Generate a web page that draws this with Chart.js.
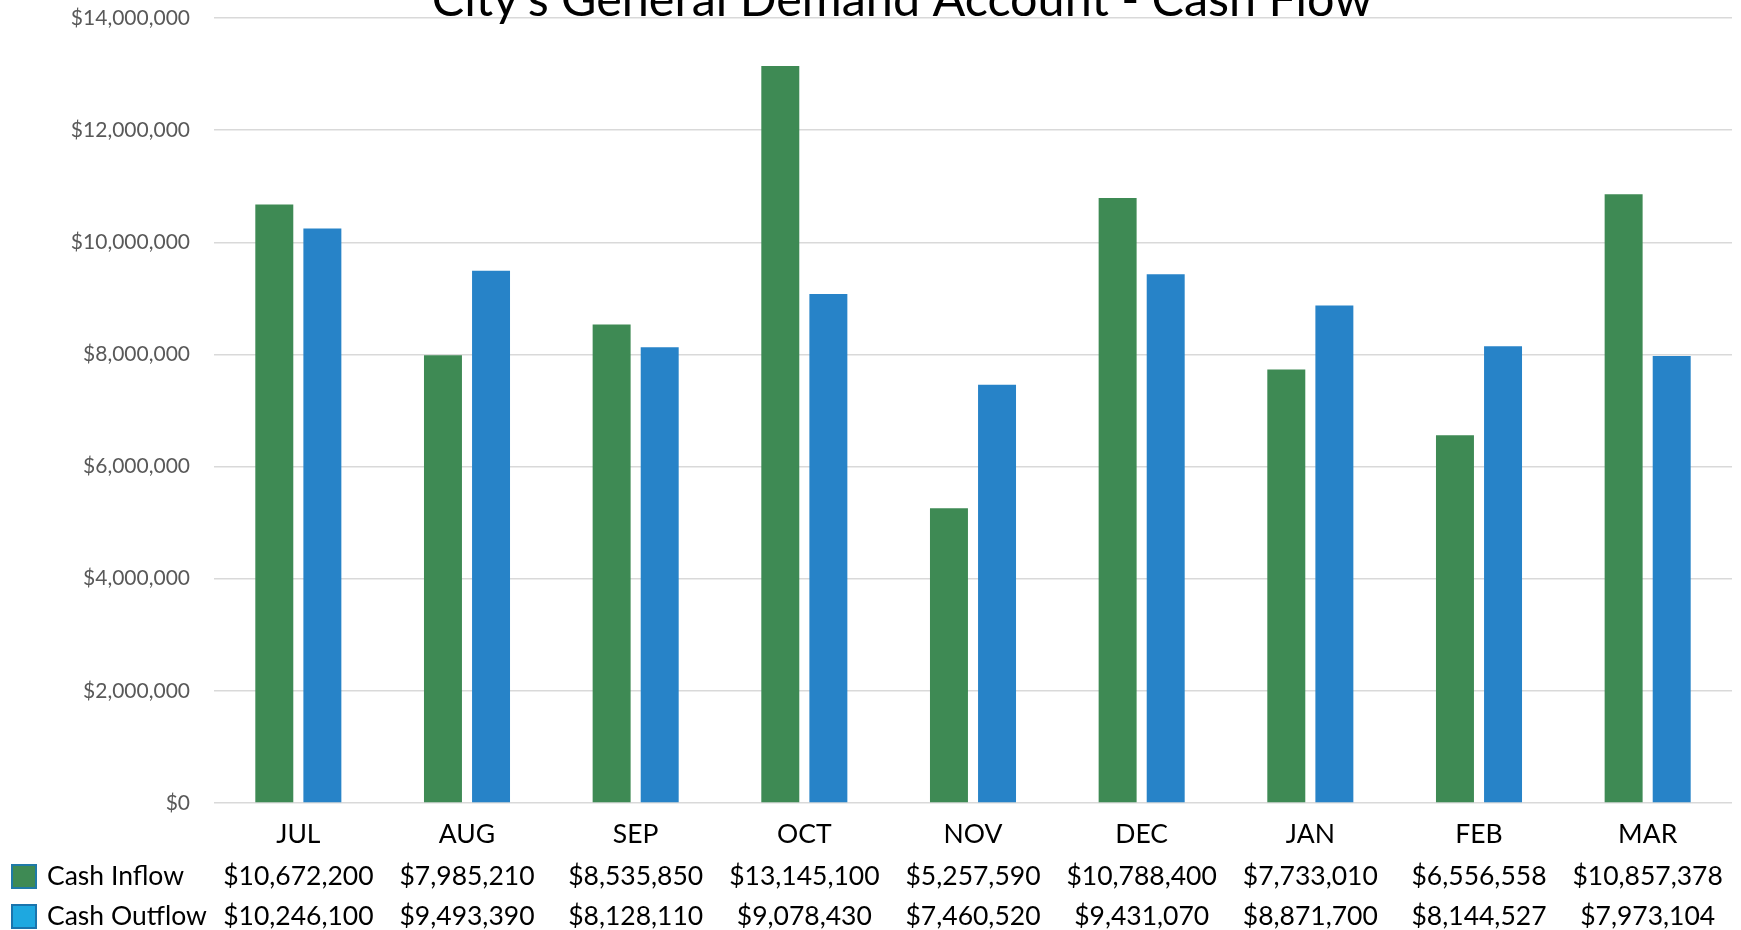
<!DOCTYPE html>
<html>
<head>
<meta charset="utf-8">
<title>City's General Demand Account - Cash Flow</title>
<script src="https://cdn.jsdelivr.net/npm/chart.js@4"></script>
<style>
  html, body { margin: 0; padding: 0; background: #fff; }
  #wrap { width: 1741px; height: 930px; position: relative; }
</style>
</head>
<body>
<div id="wrap"><canvas id="cashChart"></canvas></div>
<script>
// chart data
const months = ['JUL', 'AUG', 'SEP', 'OCT', 'NOV', 'DEC', 'JAN', 'FEB', 'MAR'];
const cashInflow = [10672200, 7985210, 8535850, 13145100, 5257590, 10788400, 7733010, 6556558, 10857378];
const cashOutflow = [10246100, 9493390, 8128110, 9078430, 7460520, 9431070, 8871700, 8144527, 7973104];
const seriesNames = ['Cash Inflow', 'Cash Outflow'];
const chartTitle = "City's General Demand Account - Cash Flow";

const FONT = 'Lato, "Open Sans", sans-serif';
const money = v => '$' + Math.round(v).toLocaleString('en-US');

// Excel style data table + cropped title drawn under / over the chart
const tablePlugin = {
  id: 'dataTable',
  afterDraw(chart) {
    const ctx = chart.ctx;
    const xs = chart.scales.x;
    const rows = [
      { name: seriesNames[0], values: cashInflow, fill: '#3e8a54', stroke: '#1f7aa8', y: 876 },
      { name: seriesNames[1], values: cashOutflow, fill: '#1ea8e0', stroke: '#1a74ad', y: 916 },
    ];
    ctx.save();
    ctx.textBaseline = 'middle';
    ctx.font = '26.5px ' + FONT;
    rows.forEach(row => {
      // legend key
      ctx.fillStyle = row.fill;
      ctx.strokeStyle = row.stroke;
      ctx.lineWidth = 2;
      ctx.fillRect(12, row.y - 11, 24, 23);
      ctx.strokeRect(12, row.y - 11, 24, 23);
      ctx.fillStyle = '#000';
      ctx.textAlign = 'left';
      ctx.fillText(row.name, 47, row.y);
      ctx.textAlign = 'center';
      row.values.forEach((v, i) => {
        ctx.fillText(money(v), xs.getPixelForValue(i), row.y);
      });
    });
    // title, partly cut off at the top like the original
    ctx.font = '48.5px ' + FONT;
    ctx.textAlign = 'center';
    ctx.textBaseline = 'alphabetic';
    ctx.fillStyle = '#000';
    ctx.fillText(chartTitle, 902, 16);
    ctx.restore();
  }
};

// drop the auto label padding so the plot area sits where the original does
const noPad = scale => {
  scale.paddingTop = 0;
  scale.paddingBottom = 0;
  scale.paddingLeft = 0;
  scale.paddingRight = 0;
};

const ctx = document.getElementById('cashChart').getContext('2d');
new Chart(ctx, {
  type: 'bar',
  data: {
    labels: months,
    datasets: [
      {
        label: seriesNames[0],
        data: cashInflow,
        backgroundColor: '#3e8a54',
        barPercentage: 0.79,
        categoryPercentage: 0.57,
      },
      {
        label: seriesNames[1],
        data: cashOutflow,
        backgroundColor: '#2783c8',
        barPercentage: 0.79,
        categoryPercentage: 0.57,
      },
    ],
  },
  options: {
    responsive: true,
    maintainAspectRatio: false,
    animation: false,
    layout: { padding: { top: 18, right: 9, left: 0, bottom: 0 } },
    plugins: {
      legend: { display: false },
      title: { display: false },
      tooltip: { enabled: false },
    },
    scales: {
      x: {
        grid: { display: false, drawTicks: false },
        border: { display: false },
        ticks: { color: '#000', font: { family: FONT, size: 26.5 }, padding: 16 },
        afterFit(scale) { scale.height = 127; noPad(scale); },
      },
      y: {
        min: 0,
        max: 14000000,
        grid: { color: '#d9d9d9', lineWidth: 1.5, drawTicks: false },
        border: { display: false },
        ticks: {
          stepSize: 2000000,
          color: '#595959',
          padding: 24,
          font: { family: FONT, size: 21 },
          callback: v => money(v),
        },
        afterFit(scale) { scale.width = 214; noPad(scale); },
      },
    },
  },
  plugins: [tablePlugin],
});
</script>
</body>
</html>
